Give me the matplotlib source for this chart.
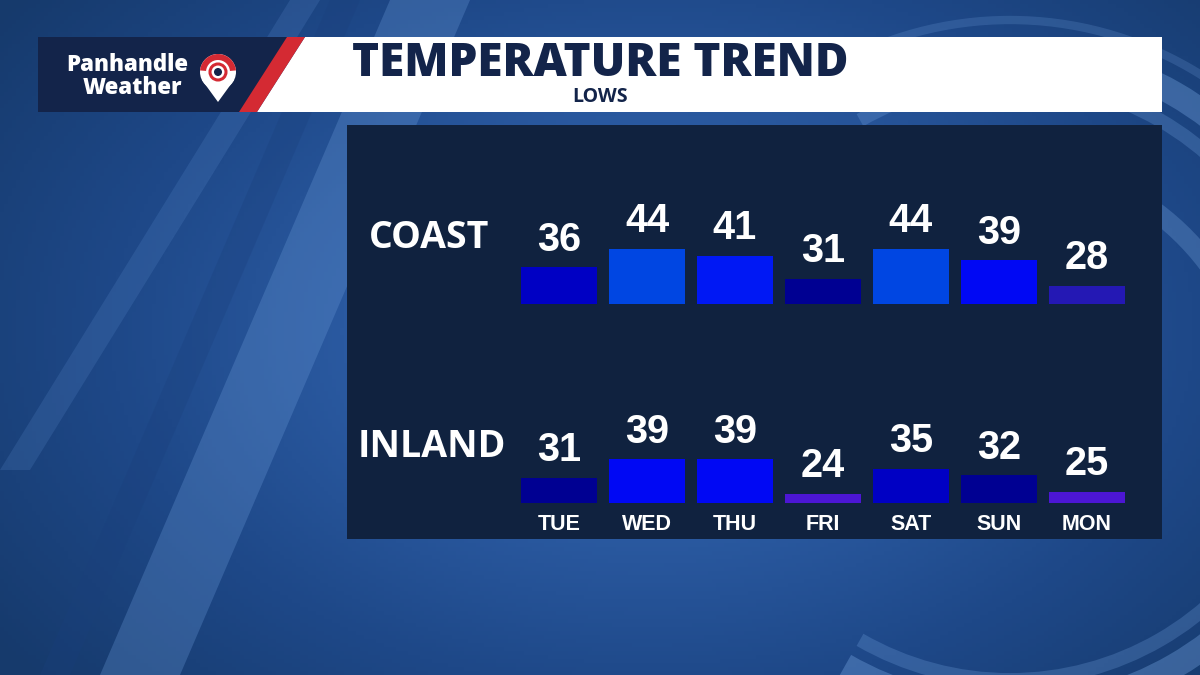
import numpy as np
import matplotlib
matplotlib.use("Agg")
import matplotlib.pyplot as plt
from matplotlib.patches import Rectangle, Polygon, Circle, Wedge, Arc
from matplotlib.colors import LinearSegmentedColormap

# ---------------- data ----------------
days = ["TUE", "WED", "THU", "FRI", "SAT", "SUN", "MON"]
coast_lows = [36, 44, 41, 31, 44, 39, 28]
inland_lows = [31, 39, 39, 24, 35, 32, 25]
title = "TEMPERATURE TREND"
subtitle = "LOWS"
row_labels = ["COAST", "INLAND"]

# ---------------- style ----------------
W, H = 1200, 675
NAVY = "#10223f"
HEADER_NAVY = "#13244a"
RED = "#d42a33"

def temp_color(t):
    if t <= 25:
        return "#4c16d4"
    if t <= 29:
        return "#2418b4"
    if t <= 33:
        return "#000092"
    if t <= 37:
        return "#0000c4"
    if t <= 40:
        return "#0008f4"
    if t <= 42:
        return "#0018f4"
    return "#0046e2"

fig = plt.figure(figsize=(12, 6.75), dpi=100)

# background axes in pixel coordinates
bg = fig.add_axes([0, 0, 1, 1])
bg.set_xlim(0, W)
bg.set_ylim(H, 0)
bg.axis("off")

# gradient background
yy, xx = np.mgrid[0:H:4, 0:W:4]
cx, cy = 650, 330
d = np.sqrt(((xx - cx) / 900.0) ** 2 + ((yy - cy) / 600.0) ** 2)
cmap = LinearSegmentedColormap.from_list("bgc", ["#3a6cb4", "#2c5ca4", "#1e4888", "#163a6c"])
bg.imshow(d, extent=(0, W, H, 0), cmap=cmap, vmin=0, vmax=0.9, aspect="auto", zorder=0)

# light diagonal streaks
bg.add_patch(Polygon([[100, 675], [180, 675], [470, 0], [390, 0]], closed=True,
                     facecolor="#6a9ad8", alpha=0.3, lw=0, zorder=1))
bg.add_patch(Polygon([[0, 470], [30, 470], [320, 0], [290, 0]], closed=True,
                     facecolor="#5f8fd0", alpha=0.2, lw=0, zorder=1))
bg.add_patch(Polygon([[40, 675], [70, 675], [360, 0], [330, 0]], closed=True,
                     facecolor="#1a3f7c", alpha=0.3, lw=0, zorder=1))
# big arcs on the right
for r, a, lw in [(330, 0.35, 18), (300, 0.25, 10), (360, 0.2, 6)]:
    bg.add_patch(Arc((1010, 380), 2 * r, 2 * r, theta1=-120, theta2=120,
                     color="#7aaae6", alpha=a, lw=lw, zorder=1))
bg.add_patch(Arc((1000, 420), 520, 520, theta1=180, theta2=330,
                 color="#8ab8ee", alpha=0.25, lw=14, zorder=1))
# bottom-left circle edge
bg.add_patch(Arc((90, 800), 620, 620, theta1=20, theta2=170,
                 color="#6a9ad8", alpha=0.3, lw=8, zorder=1))

# header
bg.add_patch(Polygon([[38, 37], [300, 37], [252, 112], [38, 112]], closed=True,
                     facecolor=HEADER_NAVY, lw=0, zorder=2))
bg.add_patch(Polygon([[287, 37], [305, 37], [257, 112], [239, 112]], closed=True,
                     facecolor=RED, lw=0, zorder=3))
bg.add_patch(Polygon([[305, 37], [1162, 37], [1162, 112], [257, 112]], closed=True,
                     facecolor="white", lw=0, zorder=2))

# logo
bg.text(127, 65, "Panhandle", color="white", fontsize=16, fontweight="heavy",
        family="Open Sans", ha="center", va="center", zorder=4)
bg.text(132, 88, "Weather", color="white", fontsize=16, fontweight="heavy",
        family="Open Sans", ha="center", va="center", zorder=4)
bg.add_patch(Polygon([[202, 80], [234, 80], [218, 102]], closed=True,
                     facecolor="white", lw=0, zorder=4))
bg.add_patch(Circle((218, 72), 18, facecolor="white", lw=0, zorder=4))
bg.add_patch(Wedge((218, 72), 18, 185, 355, width=6, facecolor=RED, lw=0, zorder=5))
bg.add_patch(Circle((218, 72), 8, facecolor="none", edgecolor=RED, lw=2.2, zorder=5))
bg.add_patch(Circle((218, 72), 4, facecolor=HEADER_NAVY, lw=0, zorder=5))

bg.text(600, 64, title, color=HEADER_NAVY, fontsize=33, fontweight="heavy",
        family="Open Sans", ha="center", va="center", zorder=4)
bg.text(600, 97, subtitle, color=HEADER_NAVY, fontsize=14, fontweight="bold",
        family="Open Sans", ha="center", va="center", zorder=4)

# panel
bg.add_patch(Rectangle((347, 125), 815, 414, facecolor=NAVY, lw=0, zorder=2))

# row labels
bg.text(429, 238, row_labels[0], color="white", fontsize=27, fontweight="bold",
        family="Open Sans", ha="center", va="center", zorder=4)
bg.text(432, 447, row_labels[1], color="white", fontsize=27, fontweight="bold",
        family="Open Sans", ha="center", va="center", zorder=4)

# bar axes
PX_PER_DEG = 2.3
BASE = 20.0
x0_px, x1_px = 515, 1131

def make_row(bottom_px, top_px, values, show_days):
    ax = fig.add_axes([x0_px / W, 1 - bottom_px / H, (x1_px - x0_px) / W,
                       (bottom_px - top_px) / H])
    ax.set_facecolor("none")
    ax.set_xlim(-0.5, len(days) - 0.5)
    ax.set_ylim(BASE, BASE + (bottom_px - top_px) / PX_PER_DEG)
    x = np.arange(len(days))
    bars = ax.bar(x, values, width=76 / 88, color=[temp_color(v) for v in values],
                  zorder=3)
    for b, v in zip(bars, values):
        ax.annotate(f"{v}", (b.get_x() + b.get_width() / 2, v),
                    xytext=(0, 6), textcoords="offset points",
                    ha="center", va="bottom", color="white", fontsize=28.5,
                    fontweight="bold", family="Liberation Sans", zorder=4)
    for s in ax.spines.values():
        s.set_visible(False)
    ax.set_yticks([])
    if show_days:
        ax.set_xticks(x)
        ax.set_xticklabels(days, color="white", fontsize=15.5, fontweight="bold",
                           family="Liberation Sans")
        ax.tick_params(axis="x", length=0, pad=8)
    else:
        ax.set_xticks([])
    return ax

make_row(304, 170, coast_lows, False)
make_row(503, 380, inland_lows, True)

fig.savefig("out.png", dpi=100)
